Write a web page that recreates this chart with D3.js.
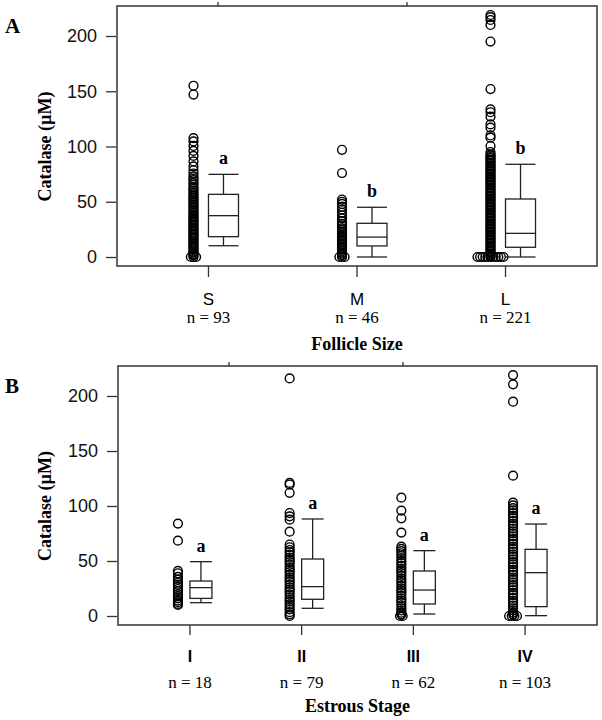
<!DOCTYPE html>
<html>
<head>
<meta charset="utf-8">
<script src="https://cdn.jsdelivr.net/npm/d3@7"></script>
<style>
  html, body { margin: 0; padding: 0; background: #fff; }
  svg { display: block; }
</style>
</head>
<body>
<svg id="chart" width="602" height="720"></svg>
<script>
// ---------------- DATA ----------------
const yTicks = [0, 50, 100, 150, 200];

// Panel A: follicle size
const sizeCats = ["S", "M", "L"];
const sizeN = [93, 46, 221];
const sizeLetters = ["a", "b", "b"];
const sizeLo  = [10.2, 0, 0];
const sizeQ1  = [18.4, 10, 8.8];
const sizeMed = [37.4, 18, 21.4];
const sizeQ3  = [56.7, 30.5, 52.5];
const sizeHi  = [74.8, 45, 83.9];
const sizePtsS = [155, 147, 107.6, 104.6, 100.5, 96, 91.5, 86.5, 82, 78.5, 75.5, 73, 71, 69.5, 67, 65.5, 63, 61.5, 60, 58, 56.5, 55, 53.5, 52, 50.5, 49, 47.5, 46, 44.5, 43, 41.5, 40, 38.5, 37, 36, 34.5, 33, 32, 30.5, 29, 28, 26.5, 25, 24, 22.5, 21, 20, 18.5, 17, 16, 14.5, 13, 12, 10.5, 9, 8, 6.5, 5, 4, 2.5, 1.5, 0, 0, 0];
const sizePtsM = [97, 76, 52, 50, 48, 45.5, 43, 40, 37.5, 35, 32.5, 30, 28, 26, 24.5, 23, 21.5, 20, 19, 17.5, 16, 15, 13.5, 12, 11, 9.5, 8, 7, 5.5, 4, 3, 1.5, 0, 0, 0];
const sizePtsL = [219, 217, 214.5, 210, 195, 152, 133.6, 131, 127, 120, 117, 110, 108, 100.4, 95, 93, 92, 90.5, 89.5, 88, 87, 85.5, 84.5, 83, 82, 80.5, 79.5, 78, 77, 75.5, 74.5, 73, 72, 70.5, 69.5, 68, 67, 65.5, 64.5, 63, 62, 60.5, 59.5, 58, 57, 55.5, 54.5, 53, 52, 50.5, 49.5, 48, 47, 45.5, 44.5, 43, 42, 40.5, 39.5, 38, 37, 35.5, 34.5, 33, 32, 30.5, 29.5, 28, 27, 25.5, 24.5, 23, 22, 20.5, 19.5, 18, 17, 15.5, 14.5, 13, 12, 10.5, 9.5, 8, 7, 5.5, 4.5, 3, 2, 1, 0, 0, 0, 0, 0, 0, 0, 0, 0, 0, 0];
const sizePoints = [sizePtsS, sizePtsM, sizePtsL];

// Panel B: estrous stage
const stageCats = ["I", "II", "III", "IV"];
const stageN = [18, 79, 62, 103];
const stageLetters = ["a", "a", "a", "a"];
const stageLo  = [12.1, 7, 1.8, 0.3];
const stageQ1  = [16, 15.2, 10.9, 8.5];
const stageMed = [25.8, 26.7, 23.6, 39.4];
const stageQ3  = [31.8, 51.8, 40.9, 60.6];
const stageHi  = [49.4, 88.2, 59.4, 83.6];
const stagePtsI = [84, 68.5, 41, 38.8, 35.5, 33, 30.5, 28.5, 26.5, 24.5, 22.5, 20, 18, 16, 14, 12.5, 11, 10];
const stagePtsII = [216, 121, 119.5, 112, 93.6, 90.6, 87.6, 76.7, 65, 62.5, 60, 58, 55.5, 53, 51, 49, 46.5, 44, 42, 40, 37.5, 35, 33, 31, 28.5, 26, 24, 22, 19.5, 17, 15, 13, 10.5, 8, 6, 3.5, 1.5, 0];
const stagePtsIII = [107.6, 95.8, 88.8, 75.8, 63, 61, 59, 57, 55, 52.5, 50, 48, 45.5, 43, 41, 39, 36.5, 34, 32, 30, 27.5, 25, 23, 21, 18.5, 16, 14, 12, 9.5, 7, 5, 3, 1.5, 0, 0];
const stagePtsIV = [219, 210.6, 194.8, 127.6, 103, 100.5, 98, 96, 93.5, 91, 89, 86.5, 84, 82, 79.5, 77, 75, 72.5, 70, 68, 65.5, 63, 61, 58.5, 56, 54, 51.5, 49, 47, 44.5, 42, 40, 37.5, 35, 33, 30.5, 28, 26, 23.5, 21, 19, 16.5, 14, 12, 9.5, 7, 5, 3, 1.5, 0, 0, 0, 0];
const stagePoints = [stagePtsI, stagePtsII, stagePtsIII, stagePtsIV];

// ---------------- DRAW ----------------
const svg = d3.select("#chart");
const SERIF = "'Liberation Serif', 'Times New Roman', serif";
const SANS = "'Liberation Sans', Arial, Helvetica, sans-serif";

function drawPanel(o) {
  const g = svg.append("g");
  const y = d3.scaleLinear().domain([0, 200]).range(o.yRange);
  const x = d3.scalePoint().domain(o.cats).range([o.frame.x0, o.frame.x1]).padding(o.pad);

  // frame
  g.append("rect")
    .attr("x", o.frame.x0).attr("y", o.frame.y0)
    .attr("width", o.frame.x1 - o.frame.x0).attr("height", o.frame.y1 - o.frame.y0)
    .attr("fill", "none").attr("stroke", "#333").attr("stroke-width", 1.5);

  // stray top marks
  o.topMarks.forEach(m => {
    g.append("line").attr("x1", m).attr("x2", m)
      .attr("y1", o.frame.y0 - 4).attr("y2", o.frame.y0)
      .attr("stroke", "#333").attr("stroke-width", 1.3);
  });

  // y axis
  const ax = g.append("g")
    .attr("transform", `translate(${o.frame.x0 - 1},0)`)
    .call(d3.axisLeft(y).tickValues(yTicks).tickSize(10).tickPadding(9));
  ax.select(".domain").remove();
  ax.selectAll(".tick line").attr("stroke", "#333").attr("stroke-width", 1.3);
  ax.selectAll(".tick text").attr("font-family", SANS).attr("font-size", 18).attr("fill", "#111");

  // y label
  const ym = (o.yRange[0] + o.yRange[1]) / 2;
  g.append("text")
    .attr("transform", `translate(45,${ym}) rotate(-90)`)
    .attr("text-anchor", "middle").attr("dominant-baseline", "central")
    .attr("font-family", SERIF).attr("font-weight", "bold").attr("font-size", 18)
    .text("Catalase (\u00b5M)");

  // panel letter
  g.append("text").attr("x", o.letterPos[0]).attr("y", o.letterPos[1])
    .attr("font-family", SERIF).attr("font-weight", "bold").attr("font-size", 21)
    .text(o.panel);

  // bottom ticks and labels
  o.cats.forEach((c, i) => {
    const cx = x(c);
    g.append("line").attr("x1", cx).attr("x2", cx)
      .attr("y1", o.frame.y1).attr("y2", o.frame.y1 + o.tickLen)
      .attr("stroke", "#333").attr("stroke-width", 1.3);
    g.append("text").attr("x", cx).attr("y", o.catY)
      .attr("text-anchor", "middle").attr("dominant-baseline", "central")
      .attr("font-family", SANS).attr("font-size", o.catSize)
      .attr("font-weight", o.catWeight)
      .text(c);
    g.append("text").attr("x", cx).attr("y", o.nY)
      .attr("text-anchor", "middle").attr("dominant-baseline", "central")
      .attr("font-family", SERIF).attr("font-size", 17)
      .text("n = " + o.n[i]);
  });

  // x title
  g.append("text").attr("x", (o.frame.x0 + o.frame.x1) / 2).attr("y", o.titleY)
    .attr("text-anchor", "middle").attr("dominant-baseline", "central")
    .attr("font-family", SERIF).attr("font-weight", "bold").attr("font-size", 18)
    .text(o.title);

  // strips (ties stacked sideways, centred)
  o.cats.forEach((c, i) => {
    const px = x(c) + o.ptOff;
    const counts = d3.rollup(o.points[i], v => v.length, d => d);
    const seen = new Map();
    const pts = o.points[i].map(v => {
      const k = seen.get(v) || 0; seen.set(v, k + 1);
      const n = counts.get(v);
      return { v, dx: (k - (n - 1) / 2) * o.stack };
    });
    g.append("g").selectAll("circle").data(pts).join("circle")
      .attr("cx", d => px + d.dx).attr("cy", d => y(d.v)).attr("r", 4.4)
      .attr("fill", "none").attr("stroke", "#000").attr("stroke-width", 1.4);
  });

  // boxes
  o.cats.forEach((c, i) => {
    const bx0 = x(c), bx1 = x(c) + o.boxW, bm = (bx0 + bx1) / 2;
    const bg = g.append("g").attr("stroke", "#222").attr("stroke-width", 1.3).attr("fill", "none");
    bg.append("line").attr("x1", bm).attr("x2", bm).attr("y1", y(o.hi[i])).attr("y2", y(o.q3[i]));
    bg.append("line").attr("x1", bm).attr("x2", bm).attr("y1", y(o.lo[i])).attr("y2", y(o.q1[i]));
    bg.append("line").attr("x1", bx0).attr("x2", bx1).attr("y1", y(o.hi[i])).attr("y2", y(o.hi[i]));
    bg.append("line").attr("x1", bx0).attr("x2", bx1).attr("y1", y(o.lo[i])).attr("y2", y(o.lo[i]));
    bg.append("rect").attr("x", bx0).attr("y", y(o.q3[i]))
      .attr("width", o.boxW).attr("height", y(o.q1[i]) - y(o.q3[i])).attr("fill", "#fff");
    bg.append("line").attr("x1", bx0).attr("x2", bx1).attr("y1", y(o.med[i])).attr("y2", y(o.med[i]));
    g.append("text").attr("x", bm).attr("y", y(o.hi[i]) - 10)
      .attr("text-anchor", "middle")
      .attr("font-family", SERIF).attr("font-weight", "bold").attr("font-size", 18)
      .text(o.letters[i]);
  });
}

drawPanel({
  panel: "A", letterPos: [5, 33],
  cats: sizeCats, n: sizeN, letters: sizeLetters,
  lo: sizeLo, q1: sizeQ1, med: sizeMed, q3: sizeQ3, hi: sizeHi, points: sizePoints,
  frame: { x0: 117, x1: 597, y0: 6, y1: 266 }, yRange: [257, 36], pad: 0.616,
  ptOff: -15, boxW: 30, stack: 2.6, tickLen: 11,
  catY: 299, catSize: 17, catWeight: "normal", nY: 317, titleY: 344,
  title: "Follicle Size", topMarks: [218, 407]
});

drawPanel({
  panel: "B", letterPos: [5, 393],
  cats: stageCats, n: stageN, letters: stageLetters,
  lo: stageLo, q1: stageQ1, med: stageMed, q3: stageQ3, hi: stageHi, points: stagePoints,
  frame: { x0: 118, x1: 597, y0: 366, y1: 625 }, yRange: [616, 396], pad: 0.644,
  ptOff: -12, boxW: 22, stack: 2.6, tickLen: 10,
  catY: 656, catSize: 16, catWeight: "bold", nY: 682, titleY: 706,
  title: "Estrous Stage", topMarks: [229, 403]
});
</script>
</body>
</html>
